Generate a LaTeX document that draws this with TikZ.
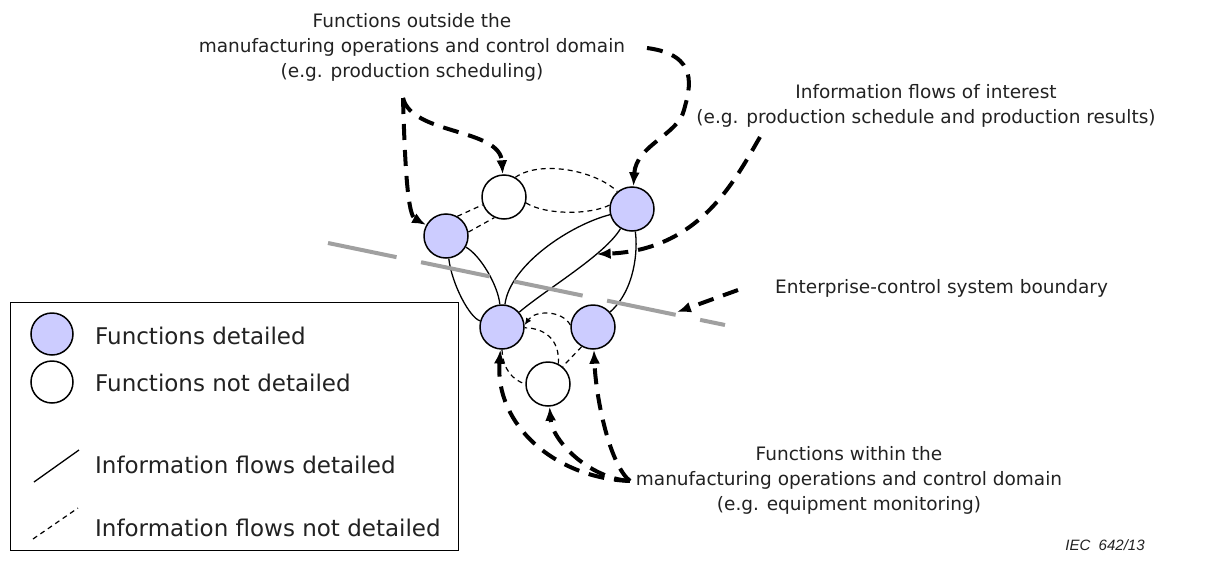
\documentclass[tikz,border=0pt]{standalone}
\usepackage{fontspec}
\setmainfont{DejaVu Sans}
\newfontfamily\iecfont{Liberation Sans}
\usetikzlibrary{arrows.meta}
\definecolor{fnblue}{RGB}{204,204,255}
\definecolor{txt}{RGB}{34,34,34}
\definecolor{bgray}{RGB}{160,160,160}
\begin{document}
\begin{tikzpicture}[x=1pt,y=-1pt,
  fn/.style={circle,draw,line width=1.5pt,minimum size=44pt,inner sep=0pt,fill=fnblue},
  nf/.style={circle,draw,line width=1.5pt,minimum size=44pt,inner sep=0pt,fill=white},
  flow/.style={line width=1.3pt},
  nflow/.style={line width=1.2pt,dash pattern=on 5pt off 4pt},
  pointer/.style={line width=4pt,dash pattern=on 16pt off 10pt,-{Latex[length=14pt,width=11pt]}},
  bnd/.style={line width=4pt,draw=bgray,dash pattern=on 70pt off 25pt},
  ann/.style={font=\fontsize{18.5}{25}\selectfont,text=txt,align=center,inner sep=0pt},
  leg/.style={font=\fontsize{23}{28}\selectfont,text=txt,anchor=west,inner sep=0pt},
]
\useasboundingbox[fill=white] (0,0) rectangle (1211,565);

% function nodes
\node[fn] (A) at (446,236) {};
\node[fn] (B) at (632,209) {};
\node[fn] (C) at (502,327) {};
\node[fn] (D) at (593,327) {};
\node[nf] (E) at (504,197) {};
\node[nf] (F) at (548,384) {};

% detailed flows
\draw[flow] (A) .. controls (452,285) and (470,318) .. (C);
\draw[flow] (A) .. controls (480,255) and (498,285) .. (C);
\draw[flow] (C) .. controls (510,265) and (570,225) .. (B);
\draw[flow] (C) .. controls (545,290) and (605,255) .. (B) coordinate[pos=0.7] (cbp);
\draw[flow] (D) .. controls (635,290) and (638,250) .. (B);

% not detailed flows
\draw[nflow] (A.60) -- (E.200);
\draw[nflow] (A.10) -- (E.245);
\draw[nflow] (E.60) .. controls (540,160) and (595,170) .. (B.130);
\draw[nflow] (E.345) .. controls (545,215) and (590,215) .. (B.170);
\draw[nflow,-{Latex[length=7pt,width=6pt]}] (D.175) .. controls (562,310) and (535,310) .. (C.5);
\draw[nflow] (F.63) .. controls (560,340) and (545,328) .. (C.358);
\draw[nflow] (C.270) .. controls (503,370) and (513,380) .. (F.180);
\draw[nflow] (D.240) -- (F.50);

% boundary
\coordinate (bl1) at (328,243);
\coordinate (bl2) at (725,325);
\draw[bnd] (bl1) -- (bl2) coordinate[pos=0.879,yshift=3pt] (bpt);

% texts
\node[ann] (outside) at (412,47) {Functions outside the\\manufacturing operations and control domain\\(e.g. production scheduling)};
\node[ann] (interest) at (926,106) {Information flows of interest\\(e.g. production schedule and production results)};
\node[ann,anchor=west] (boundary) at (775,288) {Enterprise-control system boundary};
\node[ann] (within) at (849,480) {Functions within the\\manufacturing operations and control domain\\(e.g. equipment monitoring)};
\node[font=\iecfont\itshape\fontsize{15}{18}\selectfont,text=txt,inner sep=0pt] (iec) at (1105,545) {IEC\ \ 642/13};

% pointers
\coordinate (s1) at (403,98);
\draw[pointer] (s1) .. controls (405,170) and (408,215) .. (A);
\draw[pointer] (s1) .. controls (412,135) and (500,128) .. (E);
\coordinate (s3) at (647,48);
\draw[pointer] (s3) .. controls (700,55) and (690,88) .. (684,110) .. controls (678,135) and (636,145) .. (B);
\coordinate (s4) at (760,137);
\draw[pointer] (s4) .. controls (735,180) and (700,250) .. (cbp);
\coordinate (s5) at (738,290);
\draw[pointer] (s5) -- (bpt);
\coordinate (s6) at (630,481);
\draw[pointer] (s6) .. controls (555,478) and (495,425) .. (C);
\draw[pointer] (s6) .. controls (588,478) and (552,440) .. (F);
\draw[pointer] (s6) .. controls (610,465) and (596,400) .. (D);

% legend
\node[draw,line width=1.2pt,minimum width=448pt,minimum height=248pt,inner sep=0pt,anchor=north west] (legend) at (10,302) {};
\node[fn,minimum size=42pt] (lfd) at (52,334) {};
\node[leg] (lfdt) at (95,336) {Functions detailed};
\node[nf,minimum size=42pt] (lnf) at (52,382) {};
\node[leg] (lnft) at (95,383) {Functions not detailed};
\coordinate (lf1) at (34,482);
\coordinate (lf2) at (79,450);
\draw[flow] (lf1) -- (lf2);
\node[leg] (lflt) at (95,465) {Information flows detailed};
\coordinate (ln1) at (33,539);
\coordinate (ln2) at (78,508);
\draw[nflow] (ln1) -- (ln2);
\node[leg] (lnlt) at (95,528) {Information flows not detailed};
\end{tikzpicture}
\end{document}
